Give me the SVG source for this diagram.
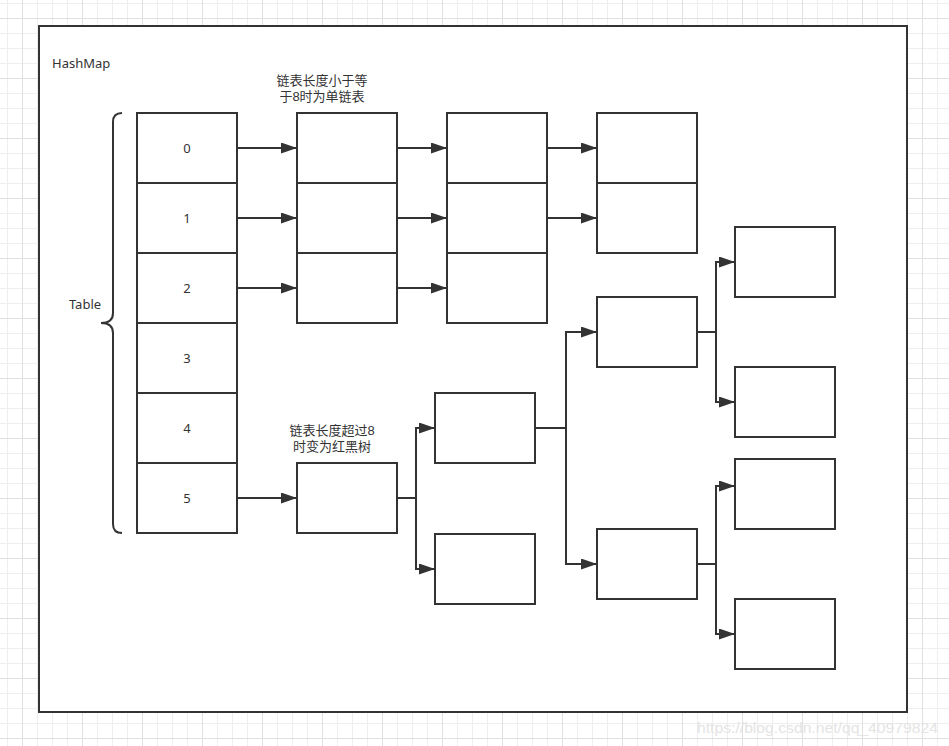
<svg xmlns="http://www.w3.org/2000/svg" width="949" height="746" viewBox="0 0 949 746">
<style>
.box{fill:#fff;stroke:#333;stroke-width:2}
.edge{fill:none;stroke:#333;stroke-width:2;marker-end:url(#arr)}
.line{fill:none;stroke:#333;stroke-width:2}
.t{font-family:"Noto Sans","Noto Sans CJK SC",sans-serif;font-size:13px;fill:#333}
.cjk{font-family:"Liberation Sans","Noto Sans CJK SC",sans-serif;font-size:13px;fill:#333}
.c{text-anchor:middle}
</style>
<defs>
<pattern id="minor" patternUnits="userSpaceOnUse" x="7" y="3" width="15" height="15">
<path d="M0.5,0 V15 M0,0.5 H15" stroke="#eeeeee" stroke-width="1" fill="none"/>
</pattern>
<pattern id="major" patternUnits="userSpaceOnUse" x="22" y="18" width="60" height="60">
<path d="M0.5,0 V60 M0,0.5 H60" stroke="#e0e0e0" stroke-width="1" fill="none"/>
</pattern>
<marker id="arr" markerUnits="userSpaceOnUse" markerWidth="16" markerHeight="11" refX="16" refY="5.5" orient="auto">
<path d="M0,0 L16,5.5 L0,11 Z" fill="#333"/>
</marker>
</defs>
<rect width="949" height="746" fill="#fff"/>
<rect width="949" height="746" fill="url(#minor)"/>
<rect width="949" height="746" fill="url(#major)"/>

<g id="hashmap">
<rect class="box" x="39" y="26" width="868" height="686"/>
<text class="t" x="52" y="68">HashMap</text>
</g>

<g id="table-brace">
<path class="line" d="M122,113 Q113,113 113,122 L113,313 Q113,323 101,323 Q113,323 113,333 L113,524 Q113,533 122,533"/>
<text class="t c" x="85" y="309">Table</text>
</g>

<g id="table">
<g id="cell0"><rect class="box" x="137" y="113" width="100" height="70"/><text class="t c" x="187" y="153">0</text></g>
<g id="cell1"><rect class="box" x="137" y="183" width="100" height="70"/><text class="t c" x="187" y="223">1</text></g>
<g id="cell2"><rect class="box" x="137" y="253" width="100" height="70"/><text class="t c" x="187" y="293">2</text></g>
<g id="cell3"><rect class="box" x="137" y="323" width="100" height="70"/><text class="t c" x="187" y="363">3</text></g>
<g id="cell4"><rect class="box" x="137" y="393" width="100" height="70"/><text class="t c" x="187" y="433">4</text></g>
<g id="cell5"><rect class="box" x="137" y="463" width="100" height="70"/><text class="t c" x="187" y="503">5</text></g>
</g>

<g id="label-list">
<text class="cjk c" x="322" y="85">链表长度小于等</text>
<text class="cjk c" x="322" y="101">于8时为单链表</text>
</g>
<g id="label-tree">
<text class="cjk c" x="332" y="435">链表长度超过8</text>
<text class="cjk c" x="332" y="451">时变为红黑树</text>
</g>

<g id="list-col1">
<rect class="box" x="297" y="113" width="100" height="70"/>
<rect class="box" x="297" y="183" width="100" height="70"/>
<rect class="box" x="297" y="253" width="100" height="70"/>
</g>
<g id="list-col2">
<rect class="box" x="447" y="113" width="100" height="70"/>
<rect class="box" x="447" y="183" width="100" height="70"/>
<rect class="box" x="447" y="253" width="100" height="70"/>
</g>
<g id="list-col3">
<rect class="box" x="597" y="113" width="100" height="70"/>
<rect class="box" x="597" y="183" width="100" height="70"/>
</g>

<g id="tree-root"><rect class="box" x="297" y="463" width="100" height="70"/></g>
<g id="tree-a"><rect class="box" x="435" y="393" width="100" height="70"/></g>
<g id="tree-b"><rect class="box" x="435" y="534" width="100" height="70"/></g>
<g id="tree-c"><rect class="box" x="597" y="297" width="100" height="70"/></g>
<g id="tree-d"><rect class="box" x="597" y="529" width="100" height="70"/></g>
<g id="tree-e"><rect class="box" x="735" y="227" width="100" height="70"/></g>
<g id="tree-f"><rect class="box" x="735" y="367" width="100" height="70"/></g>
<g id="tree-g"><rect class="box" x="735" y="459" width="100" height="70"/></g>
<g id="tree-h"><rect class="box" x="735" y="599" width="100" height="70"/></g>

<g id="connectors">
<path class="edge" d="M237,148 H297"/>
<path class="edge" d="M237,218 H297"/>
<path class="edge" d="M237,288 H297"/>
<path class="edge" d="M397,148 H447"/>
<path class="edge" d="M397,218 H447"/>
<path class="edge" d="M397,288 H447"/>
<path class="edge" d="M547,148 H597"/>
<path class="edge" d="M547,218 H597"/>
<path class="edge" d="M237,498 H297"/>
<path class="edge" d="M397,498 H416 V428 H435"/>
<path class="edge" d="M397,498 H416 V569 H435"/>
<path class="edge" d="M535,428 H566 V332 H597"/>
<path class="edge" d="M535,428 H566 V564 H597"/>
<path class="edge" d="M697,332 H716 V262 H735"/>
<path class="edge" d="M697,332 H716 V402 H735"/>
<path class="edge" d="M697,564 H716 V486 H735"/>
<path class="edge" d="M697,564 H716 V634 H735"/>
</g>

<text x="697" y="733" textLength="241" lengthAdjust="spacingAndGlyphs" style="font-family:'Liberation Sans',sans-serif;font-size:14px;fill:#e4e4e4">https://blog.csdn.net/qq_40979824</text>
</svg>
